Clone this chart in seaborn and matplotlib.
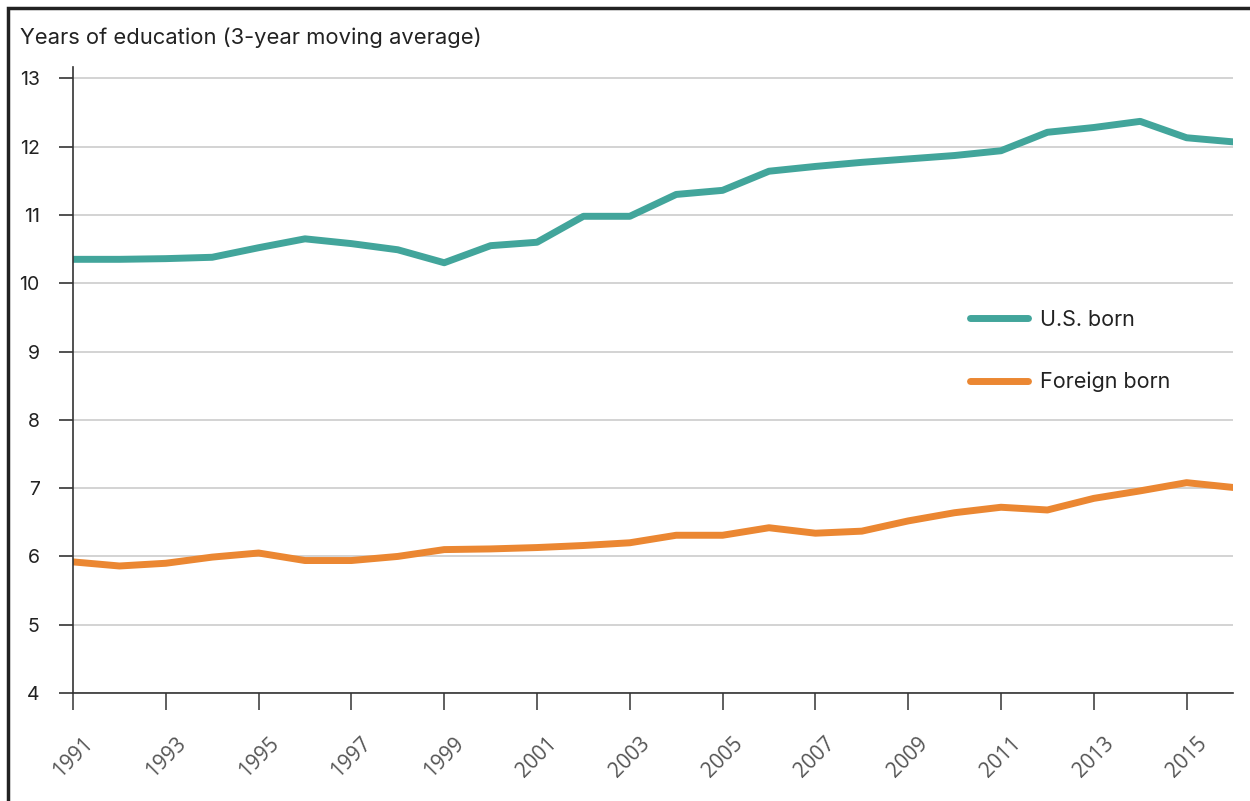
import matplotlib
matplotlib.use("Agg")
import matplotlib.pyplot as plt
import seaborn as sns
import pandas as pd
from matplotlib.patches import Rectangle

# data (3-year moving average, years of education)
years = list(range(1991, 2017))
us_born = [10.35, 10.35, 10.36, 10.38, 10.52, 10.65, 10.58, 10.49, 10.30, 10.55,
           10.60, 10.98, 10.98, 11.30, 11.36, 11.64, 11.71, 11.77, 11.82, 11.87,
           11.94, 12.21, 12.28, 12.37, 12.13, 12.07]
foreign_born = [5.92, 5.86, 5.90, 5.99, 6.05, 5.94, 5.94, 6.00, 6.10, 6.11,
                6.13, 6.16, 6.20, 6.31, 6.31, 6.42, 6.34, 6.37, 6.52, 6.64,
                6.72, 6.68, 6.85, 6.96, 7.08, 7.01]
series_names = ["U.S. born", "Foreign born"]
colors = ["#42A59B", "#EB8732"]
y_ticks = list(range(4, 14))
x_ticks = list(range(1991, 2017, 2))

df = pd.DataFrame({
    "year": years * 2,
    "value": us_born + foreign_born,
    "group": [series_names[0]] * len(years) + [series_names[1]] * len(years),
})

sns.set_theme(style="white")
plt.rcParams["font.family"] = ["Inter", "DejaVu Sans"]

fig = plt.figure(figsize=(12.5, 8.01), dpi=100)
ax = fig.add_axes([0.0584, 0.1348, 0.9280, 0.7819])

sns.lineplot(data=df, x="year", y="value", hue="group", palette=colors,
             hue_order=series_names, linewidth=5, ax=ax,
             solid_capstyle="round", legend=True)

ax.set_xlim(1991, 2016)
ax.set_ylim(4, 13.17)
ax.set_yticks(y_ticks)
ax.set_xticks(x_ticks)
ax.set_xlabel("")
ax.set_ylabel("")
ax.grid(axis="y", color="#c8c8c8", linewidth=1.1)
ax.grid(axis="x", visible=False)
ax.set_axisbelow(True)

for side in ["top", "right"]:
    ax.spines[side].set_visible(False)
for side in ["left", "bottom"]:
    ax.spines[side].set_color("#333333")
    ax.spines[side].set_linewidth(1.2)

ax.tick_params(axis="y", direction="out", length=10, width=1.2, color="#333333",
               labelsize=14, labelcolor="#222222", pad=14, left=True)
ax.tick_params(axis="x", direction="out", length=12, width=1.2, color="#444444",
               labelsize=15, labelcolor="#555555", pad=17, bottom=True)
for lab in ax.get_xticklabels():
    lab.set_rotation(45)
    lab.set_ha("center")
    lab.set_va("top")
    lab.set_family(["Open Sans", "DejaVu Sans"])

leg = ax.legend(loc="upper left", bbox_to_anchor=(0.776, 0.613),
                bbox_transform=fig.transFigure, frameon=False, fontsize=15.5,
                handlelength=2.7, handletextpad=0.55, labelspacing=1.95,
                borderpad=0, borderaxespad=0)
for line in leg.get_lines():
    line.set_linewidth(5)
    line.set_solid_capstyle("round")
for t in leg.get_texts():
    t.set_color("#222222")

fig.text(0.016, 0.9526, "Years of education (3-year moving average)",
         fontsize=15.8, color="#222222", ha="left", va="center")

# frame around the figure (top and left edges visible)
fig.patches.append(Rectangle((0.0064, -0.2), 1.2, 1.19, transform=fig.transFigure,
                             fill=False, edgecolor="#222222", linewidth=2.5))

fig.savefig("out.png", dpi=100)
